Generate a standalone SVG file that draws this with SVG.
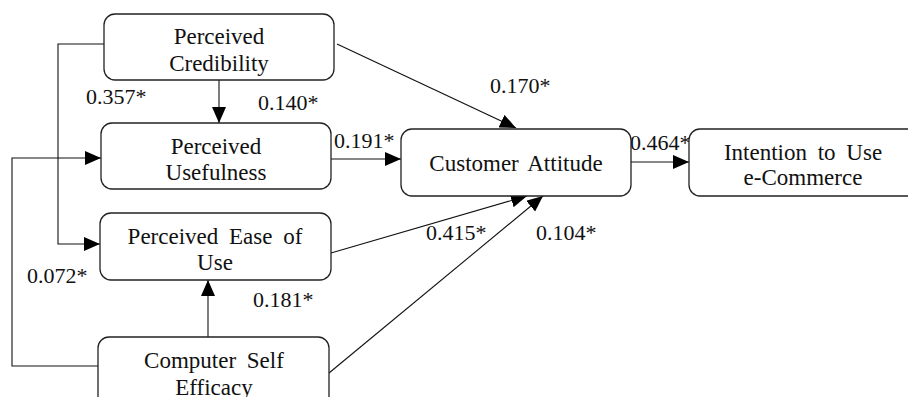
<svg xmlns="http://www.w3.org/2000/svg" width="908" height="397" viewBox="0 0 908 397">
<style>
.box{fill:#fff;stroke:#222;stroke-width:1.3}
.t{font-family:"Liberation Serif","Times New Roman",serif;font-size:23px;fill:#111;text-anchor:middle}
.l{font-family:"Liberation Serif","Times New Roman",serif;font-size:22px;fill:#111}
.c{fill:none;stroke:#111;stroke-width:1.1}
</style>
<defs>
<marker id="ah" markerUnits="userSpaceOnUse" markerWidth="18" markerHeight="16" refX="16" refY="7" orient="auto">
<path d="M0,0 L16,7 L0,14 Z" fill="#000"/>
</marker>
</defs>
<g id="connectors">
<path class="c" d="M219,80 V123" marker-end="url(#ah)"/>
<path class="c" d="M337,44 L516,128" marker-end="url(#ah)"/>
<path class="c" d="M104,44 H58 V244 H100" marker-end="url(#ah)"/>
<path class="c" d="M99,366 H12 V158 H101" marker-end="url(#ah)"/>
<path class="c" d="M208,337 V280" marker-end="url(#ah)"/>
<path class="c" d="M331,159 H401" marker-end="url(#ah)"/>
<path class="c" d="M331,253 L527,196" marker-end="url(#ah)"/>
<path class="c" d="M329,373 L543,196" marker-end="url(#ah)"/>
<path class="c" d="M631,162 H689" marker-end="url(#ah)"/>
</g>
<g id="labels">
<text class="l" x="86" y="104">0.357*</text>
<text class="l" x="258" y="110">0.140*</text>
<text class="l" x="334" y="148">0.191*</text>
<text class="l" x="490" y="93">0.170*</text>
<text class="l" x="630" y="150">0.464*</text>
<text class="l" x="426" y="240">0.415*</text>
<text class="l" x="536" y="240">0.104*</text>
<text class="l" x="27" y="283">0.072*</text>
<text class="l" x="253" y="307">0.181*</text>
</g>
<g id="perceived-credibility">
<rect class="box" x="104" y="14" width="230" height="66" rx="11"/>
<text class="t" x="219" y="44">Perceived</text>
<text class="t" x="219" y="71">Credibility</text>
</g>
<g id="perceived-usefulness">
<rect class="box" x="101" y="123" width="230" height="66" rx="11"/>
<text class="t" x="216" y="154">Perceived</text>
<text class="t" x="216" y="180">Usefulness</text>
</g>
<g id="perceived-ease-of-use">
<rect class="box" x="100" y="213" width="231" height="67" rx="11"/>
<text class="t" x="215" y="244" word-spacing="5">Perceived Ease of</text>
<text class="t" x="215" y="270">Use</text>
</g>
<g id="computer-self-efficacy">
<rect class="box" x="98" y="337" width="231" height="70" rx="11"/>
<text class="t" x="214" y="368" word-spacing="5">Computer Self</text>
<text class="t" x="214" y="395">Efficacy</text>
</g>
<g id="customer-attitude">
<rect class="box" x="401" y="129" width="230" height="67" rx="11"/>
<text class="t" x="516" y="171" word-spacing="4">Customer Attitude</text>
</g>
<g id="intention-to-use">
<rect class="box" x="689" y="129" width="230" height="67" rx="11"/>
<text class="t" x="803" y="160" word-spacing="5">Intention to Use</text>
<text class="t" x="803" y="185">e-Commerce</text>
</g>
</svg>
